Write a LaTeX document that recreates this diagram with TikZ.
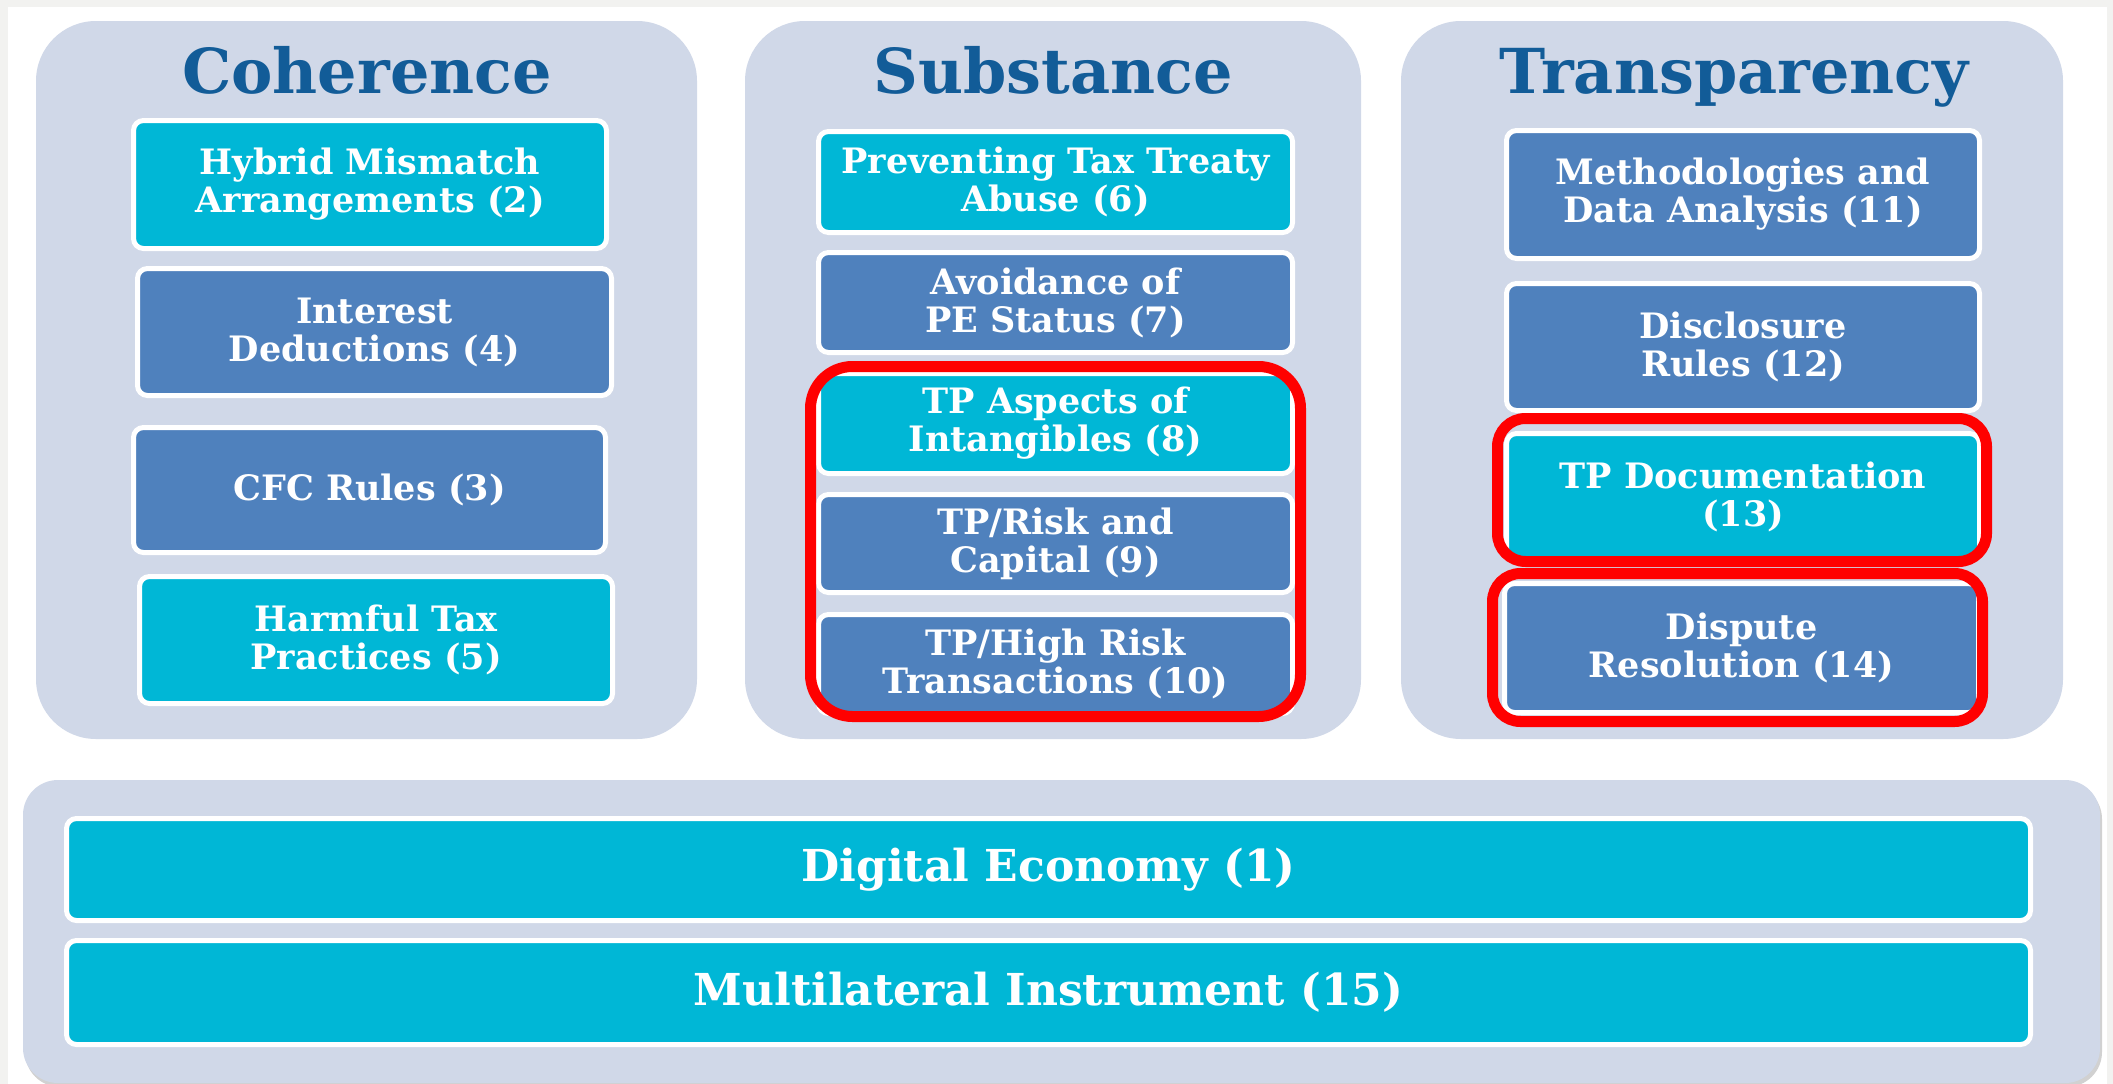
\documentclass[tikz,border=0pt]{standalone}
\usepackage{fontspec}
\setmainfont{DejaVu Serif}
\definecolor{panel}{RGB}{208,216,232}
\definecolor{cyanbox}{RGB}{0,183,214}
\definecolor{bluebox}{RGB}{79,129,189}
\definecolor{titleblue}{RGB}{18,92,152}
\definecolor{redline}{RGB}{255,0,0}
\definecolor{edgegray}{RGB}{242,242,240}
\begin{document}
\begin{tikzpicture}[x=1pt,y=-1pt,
  panelbox/.style={fill=panel, draw=none, rounded corners=60pt, inner sep=0pt},
  itembox/.style={draw=white, line width=5pt, rounded corners=10pt, text=white,
    font=\fontsize{35}{38}\selectfont\bfseries, align=center, inner sep=0pt},
  cbox/.style={itembox, fill=cyanbox},
  bbox/.style={itembox, fill=bluebox},
  titletext/.style={text=titleblue, font=\fontsize{62}{70}\selectfont\bfseries, anchor=base, inner sep=0pt},
  redframe/.style={draw=redline, line width=11pt, inner sep=0pt},
  widebox/.style={cbox, font=\fontsize{44}{48}\selectfont\bfseries}
]
\useasboundingbox (0,0) rectangle (2113,1084);
\fill[white] (0,0) rectangle (2113,1084);
\fill[edgegray] (0,0) rectangle (2113,7);
\fill[edgegray] (0,0) rectangle (8,1084);
\fill[edgegray] (2107,0) rectangle (2113,1084);

% panels
\node[panelbox, minimum width=661, minimum height=718] (coh) at (366.5,380) {};
\node[panelbox, minimum width=616, minimum height=718] (sub) at (1053,380) {};
\node[panelbox, minimum width=662, minimum height=718] (tra) at (1732,380) {};
\fill[black, opacity=0.18, rounded corners=35pt] (25,784) rectangle (2102,1087);
\node[panelbox, rounded corners=35pt, minimum width=2077, minimum height=303] (bot) at (1061.5,931.5) {};

% titles
\node[titletext] (tcoh) at (367,93) {Coherence};
\node[titletext] (tsub) at (1053,93) {Substance};
\node[titletext] (ttra) at (1734,93) {Transparency};

% coherence
\node[cbox, minimum width=473, minimum height=128] (b2) at (370,184.5) {Hybrid Mismatch\\Arrangements (2)};
\node[bbox, minimum width=474, minimum height=127] (b4) at (374.5,332) {Interest\\Deductions (4)};
\node[bbox, minimum width=472, minimum height=125] (b3) at (369.5,490) {CFC Rules (3)};
\node[cbox, minimum width=473, minimum height=127] (b5) at (376,640) {Harmful Tax\\Practices (5)};

% substance
\node[cbox, minimum width=474, minimum height=101] (b6) at (1055.5,182) {Preventing Tax Treaty\\Abuse (6)};
\node[bbox, minimum width=474, minimum height=100] (b7) at (1055.5,302.5) {Avoidance of\\PE Status (7)};
\node[cbox, minimum width=474, minimum height=100] (b8) at (1055.5,423.5) {TP Aspects of\\Intangibles (8)};
\node[bbox, minimum width=474, minimum height=98] (b9) at (1055.5,543.5) {TP/Risk and\\Capital (9)};
\node[bbox, minimum width=474, minimum height=99] (b10) at (1055.5,664) {TP/High Risk\\Transactions (10)};
\node[redframe, rounded corners=42pt, minimum width=490, minimum height=350] (rs) at (1055.5,541.5) {};

% transparency
\node[bbox, minimum width=473, minimum height=128] (b11) at (1743,194.5) {Methodologies and\\Data Analysis (11)};
\node[bbox, minimum width=473, minimum height=127] (b12) at (1743,347) {Disclosure\\Rules (12)};
\node[cbox, minimum width=473, minimum height=126] (b13) at (1743,496.5) {TP Documentation\\(13)};
\node[bbox, minimum width=474, minimum height=129] (b14) at (1741.5,648) {Dispute\\Resolution (14)};
\node[redframe, rounded corners=28pt, minimum width=489, minimum height=143] (rt1) at (1742,490) {};
\node[redframe, rounded corners=28pt, minimum width=490, minimum height=148] (rt2) at (1737.5,647.5) {};

% bottom
\node[widebox, minimum width=1964, minimum height=102] (b1) at (1048.5,869.5) {Digital Economy (1)};
\node[widebox, minimum width=1964, minimum height=104] (b15) at (1048.5,992.5) {Multilateral Instrument (15)};
\end{tikzpicture}
\end{document}
